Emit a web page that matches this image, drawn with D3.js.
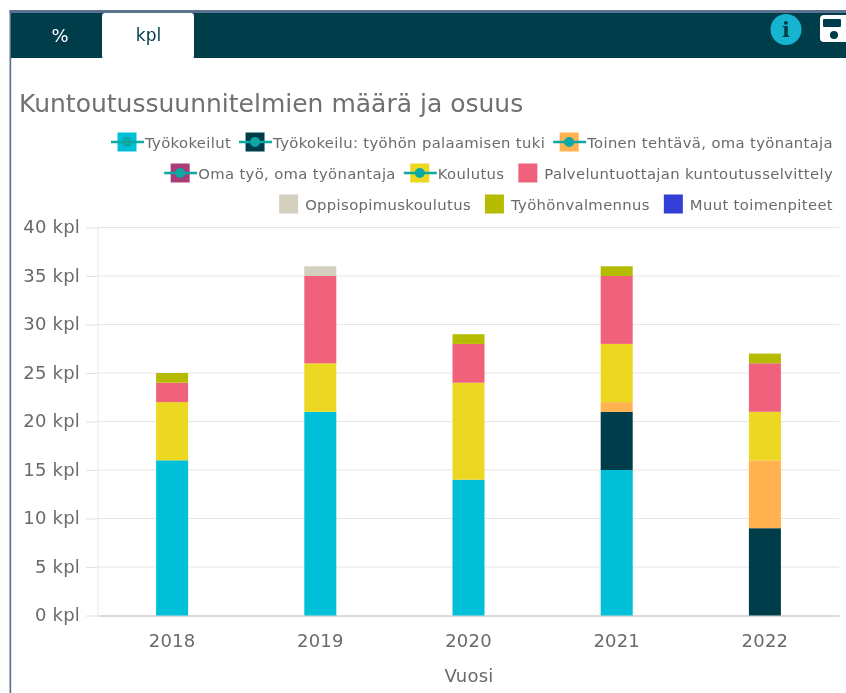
<!DOCTYPE html>
<html><head><meta charset="utf-8">
<script src="https://cdn.jsdelivr.net/npm/d3@7/dist/d3.min.js"></script>
<style>html,body{margin:0;padding:0;background:#fff}svg{display:block}text{font-family:"DejaVu Sans",sans-serif}</style>
</head><body><svg id="c" width="846" height="693"></svg>
<script>
const years = ["2018","2019","2020","2021","2022"];
const seriesNames = ["Työkokeilut","Työkokeilu: työhön palaamisen tuki","Toinen tehtävä, oma työnantaja","Oma työ, oma työnantaja","Koulutus","Palveluntuottajan kuntoutusselvittely","Oppisopimuskoulutus","Työhönvalmennus","Muut toimenpiteet"];
const colors = ["#00c0d8","#003c4c","#ffb24d","#a83c78","#ecd823","#f0627c","#d2cfbf","#b4bb00","#3040d8"];
const tyokokeilut = [16,21,14,15,0];
const tuki = [0,0,0,6,9];
const toinen = [0,0,0,1,7];
const omaTyo = [0,0,0,0,0];
const koulutus = [6,5,10,6,5];
const palvelu = [2,9,4,7,5];
const oppisopimus = [0,1,0,0,0];
const valmennus = [1,0,1,1,1];
const muut = [0,0,0,0,0];
const allValues = [tyokokeilut,tuki,toinen,omaTyo,koulutus,palvelu,oppisopimus,valmennus,muut];
const withLine = [true,true,true,true,true,false,false,false,false];
const legendRows = [[0,1,2],[3,4,5],[6,7,8]];
const yTicks = [0,5,10,15,20,25,30,35,40];
const titleText = "Kuntoutussuunnitelmien määrä ja osuus";
const xTitle = "Vuosi";
const tabs = ["%","kpl"];

const svg = d3.select("#c");
svg.append("defs").append("filter").attr("id","soft").append("feGaussianBlur").attr("stdDeviation",0.5);
const root = svg.append("g").attr("filter","url(#soft)");

// frame + header
root.append("rect").attr("x",0).attr("y",0).attr("width",846).attr("height",693).attr("fill","#fff");
root.append("rect").attr("x",9.5).attr("y",10).attr("width",837).attr("height",3).attr("fill","#5b7390");
root.append("rect").attr("x",9.5).attr("y",10).attr("width",1.7).attr("height",683).attr("fill","#5b7390");
root.append("rect").attr("x",11).attr("y",13).attr("width",835).attr("height",45).attr("fill","#003c4c");
root.append("rect").attr("x",102).attr("y",13).attr("width",92).attr("height",46).attr("rx",3).attr("fill","#fff");
root.append("text").attr("x",60).attr("y",42).attr("text-anchor","middle").attr("font-size",18).attr("fill","#fff").text(tabs[0]);
root.append("text").attr("x",148.5).attr("y",41).attr("text-anchor","middle").attr("font-size",17).attr("fill","#003c4c").text(tabs[1]);
// info icon
root.append("circle").attr("cx",786).attr("cy",29.5).attr("r",15.5).attr("fill","#14b4d0");
root.append("text").attr("x",786).attr("y",36.5).attr("text-anchor","middle").attr("font-size",21).attr("font-weight","bold").style("font-family","'DejaVu Serif',serif").attr("fill","#003c4c").text("i");
// save icon
root.append("rect").attr("x",820).attr("y",15).attr("width",40).attr("height",27).attr("rx",4).attr("fill","#fff");
root.append("rect").attr("x",823).attr("y",19).attr("width",18).attr("height",8).attr("rx",1).attr("fill","#003c4c");
root.append("circle").attr("cx",834).attr("cy",35).attr("r",4).attr("fill","#003c4c");

// title
root.append("text").attr("x",19).attr("y",112).attr("font-size",25).attr("fill","#707070").text(titleText);

// scales
const x = d3.scaleBand().domain(years).range([98,839]);
const y = d3.scaleLinear().domain([0,40]).range([615.5,227.5]);
const barW = 32;
const labelStyle = sel => sel.attr("font-size",18).attr("letter-spacing","0.2px").attr("fill","#6a6a6a").style("font-family","'DejaVu Sans',sans-serif");

// grid
root.append("g").selectAll("line").data(yTicks.filter(d=>d>0)).join("line")
 .attr("x1",98).attr("x2",839).attr("y1",d=>y(d)).attr("y2",d=>y(d)).attr("stroke","#e6e6e6");
root.append("line").attr("x1",98).attr("x2",98).attr("y1",227.5).attr("y2",615.5).attr("stroke","#e6e6e6");

// axes
const yAxis = root.append("g").attr("transform","translate(98,0)").call(d3.axisLeft(y).tickValues(yTicks).tickSize(12).tickPadding(6).tickFormat(d=>d+" kpl"));
yAxis.select(".domain").remove();
yAxis.selectAll("line").attr("stroke","#e0e0e0");
yAxis.selectAll("text").call(labelStyle).attr("dy","0.28em");

const xAxis = root.append("g").attr("transform","translate(0,615.5)").call(d3.axisBottom(x).tickSize(0).tickPadding(19));
xAxis.select(".domain").attr("stroke","#cfcfcf").attr("stroke-width",1.5);
xAxis.selectAll("text").call(labelStyle);
root.append("text").attr("x",469).attr("y",682).attr("text-anchor","middle").call(labelStyle).text(xTitle);

// bars
const rows = years.map((yr,i)=>{const o={year:yr};seriesNames.forEach((s,j)=>o[s]=allValues[j][i]);return o;});
const stacked = d3.stack().keys(seriesNames)(rows);
root.append("g").selectAll("g").data(stacked).join("g").attr("fill",(d,i)=>colors[i])
 .selectAll("rect").data(d=>d.filter(p=>p[1]>p[0])).join("rect")
 .attr("x",d=>x(d.data.year)+x.bandwidth()/2-barW/2).attr("width",barW)
 .attr("y",d=>y(d[1])).attr("height",d=>y(d[0])-y(d[1]));

// legend (right aligned rows)
const legendY = [142,173,204];
const rightEdge = 833;
legendRows.forEach((row,ri)=>{
  let cur = rightEdge;
  [...row].reverse().forEach(idx=>{
    const lined = withLine[idx];
    const g = root.append("g");
    const t = g.append("text").attr("x",cur).attr("y",legendY[ri]+5.5).attr("text-anchor","end").attr("font-size",14.8).attr("letter-spacing","0.35px").attr("fill","#6a6a6a").text(seriesNames[idx]);
    const w = t.node().getComputedTextLength();
    const left = cur-w;
    const cx = lined ? left-18 : left-16.5;
    g.append("rect").attr("x",cx-9.5).attr("y",legendY[ri]-9.5).attr("width",19).attr("height",19).attr("fill",colors[idx]);
    if(lined){
      g.append("line").attr("x1",cx-16).attr("x2",cx+17).attr("y1",legendY[ri]).attr("y2",legendY[ri]).attr("stroke","#08a8a4").attr("stroke-width",2.6);
      g.append("circle").attr("cx",cx).attr("cy",legendY[ri]).attr("r",5).attr("fill","#08a8a4");
    }
    cur = cx-(lined?24:23.5);
  });
});
</script></body></html>
